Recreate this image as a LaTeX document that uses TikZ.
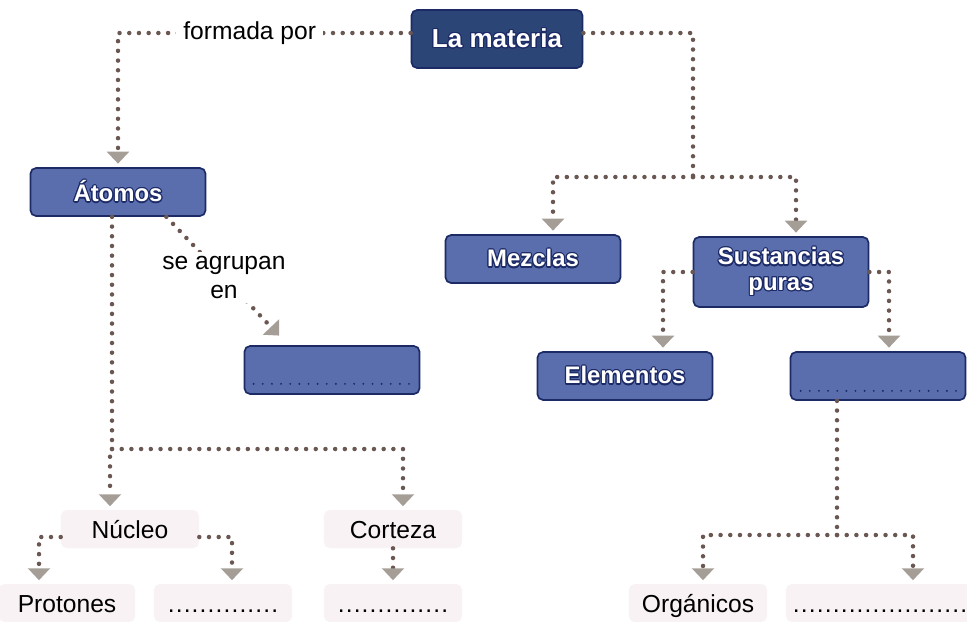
\documentclass[tikz,border=0pt]{standalone}
\usepackage{fontspec}
\setmainfont{Liberation Sans}
\usepackage{contour}
\contourlength{0.8pt}
\usetikzlibrary{positioning, arrows.meta, calc}
\definecolor{azulosc}{HTML}{2C4577}
\definecolor{azul}{HTML}{5A6EAD}
\definecolor{borde}{HTML}{1C2A66}
\definecolor{punto}{HTML}{6A5752}
\definecolor{flecha}{HTML}{A59E97}
\definecolor{rosado}{HTML}{F8F2F4}
\newcommand{\puntos}[1]{\foreach \i in {1,...,#1}{.\hspace{0.8pt}}}
\newcommand{\blanco}[1]{\contour{borde}{#1}}
\tikzset{
  concepto/.style={
    draw=borde,
    line width=1.2pt,
    rectangle,
    rounded corners=4pt,
    minimum width=4.375cm,
    minimum height=1.2cm,
    align=center,
    fill=azul,
    text=white,
    font=\fontsize{17}{20}\selectfont\bfseries
  },
  principal/.style={
    concepto,
    fill=azulosc,
    minimum width=4.275cm,
    minimum height=1.45cm,
    font=\fontsize{18.5}{21}\selectfont\bfseries
  },
  hoja/.style={
    rectangle,
    rounded corners=4pt,
    fill=rosado,
    minimum width=3.45cm,
    minimum height=0.95cm,
    text height=14pt,
    text depth=0pt,
    font=\fontsize{17.5}{20}\selectfont
  },
  enlace/.style={
    draw=punto,
    line width=3.2pt,
    line cap=round,
    dash pattern=on 0pt off 6.9pt
  },
  flechita/.style={
    enlace,
    shorten >=2.5pt,
    -{Triangle[width=15.5pt, length=8.5pt, color=flecha, fill=flecha]}
  },
  relleno/.style={
    draw=borde,
    line width=1.5pt,
    line cap=round,
    dash pattern=on 0pt off 6.5pt
  },
  etiqueta/.style={
    fill=white,
    inner xsep=5pt,
    align=center,
    font=\fontsize{17.5}{20}\selectfont
  }
}
\begin{document}
\begin{tikzpicture}[x=0.025cm, y=-0.025cm]
    \useasboundingbox (0,0) rectangle (967,621);

    \node[principal] (materia) at (497,39) {\blanco{La materia}};
    \node[concepto] (atomos) at (118,192) {\blanco{Átomos}};
    \node[concepto] (mezclas) at (533,259) {\blanco{Mezclas}};
    \node[concepto, minimum height=1.75cm] (sustancias) at (781,272) {\blanco{Sustancias}\\[-2pt]\blanco{puras}};
    \node[concepto] (elementos) at (625,376) {\blanco{Elementos}};
    \node[concepto] (grupo) at (332,370) {};
    \node[concepto] (compuesto) at (878,376) {};

    \node[hoja] (nucleo) at (130,529) {Núcleo};
    \node[hoja] (corteza) at (393,529) {Corteza};
    \node[hoja, minimum width=3.4cm] (protones) at (67,603) {Protones};
    \node[hoja] (vacio1) at (223,603) {\puntos{14}};
    \node[hoja] (vacio2) at (393,603) {\puntos{14}};
    \node[hoja] (organicos) at (698,603) {Orgánicos};
    \node[hoja, minimum width=4.7cm] (vacio3) at (880,603) {\puntos{22}};

    \draw[relleno] ($(grupo.south west)+(10,-11)$) -- ($(grupo.south east)+(-9,-11)$);
    \draw[relleno] ($(compuesto.south west)+(11,-10)$) -- ($(compuesto.south east)+(-7,-10)$);

    \coordinate (ramaM) at (693,177);
    \coordinate (ramaA) at (112,449);
    \coordinate (ramaC) at (837,535);

    \draw[flechita] ($(materia.west)+(0,-6)$) -| (atomos.north) node[etiqueta, pos=0.275] {formada por};
    \draw[enlace] ($(materia.east)+(0,-6)$) -| (ramaM);
    \draw[flechita] (ramaM) -| ($(mezclas.north)+(20,0)$);
    \draw[flechita] (ramaM) -| ($(sustancias.north)+(15,0)$);

    \draw[flechita] (sustancias.west) -| ($(elementos.north)+(38,0)$);
    \draw[flechita] (sustancias.east) -| ($(compuesto.north)+(11,0)$);

    \draw[flechita] ($(atomos.south east)+(-40,0)$) -- ($(grupo.north west)+(38,-7)$) node[etiqueta, midway, inner sep=3pt] {se agrupan\\en};
    \draw[enlace] (atomos.south -| ramaA) -- (ramaA);
    \draw[flechita] (ramaA) -| ($(nucleo.north)+(-20,0)$);
    \draw[flechita] (ramaA) -| ($(corteza.north)+(10,0)$);

    \draw[flechita] ($(nucleo.west)+(0,8)$) -| ($(protones.north)+(-28,0)$);
    \draw[flechita] ($(nucleo.east)+(0,8)$) -| ($(vacio1.north)+(9,0)$);
    \draw[flechita] (corteza) -- (vacio2);

    \draw[enlace] (compuesto.south -| ramaC) -- (ramaC);
    \draw[flechita] (ramaC) -| ($(organicos.north)+(5,0)$);
    \draw[flechita] (ramaC) -| ($(vacio3.north)+(33,0)$);
    \end{tikzpicture}
\end{document}
